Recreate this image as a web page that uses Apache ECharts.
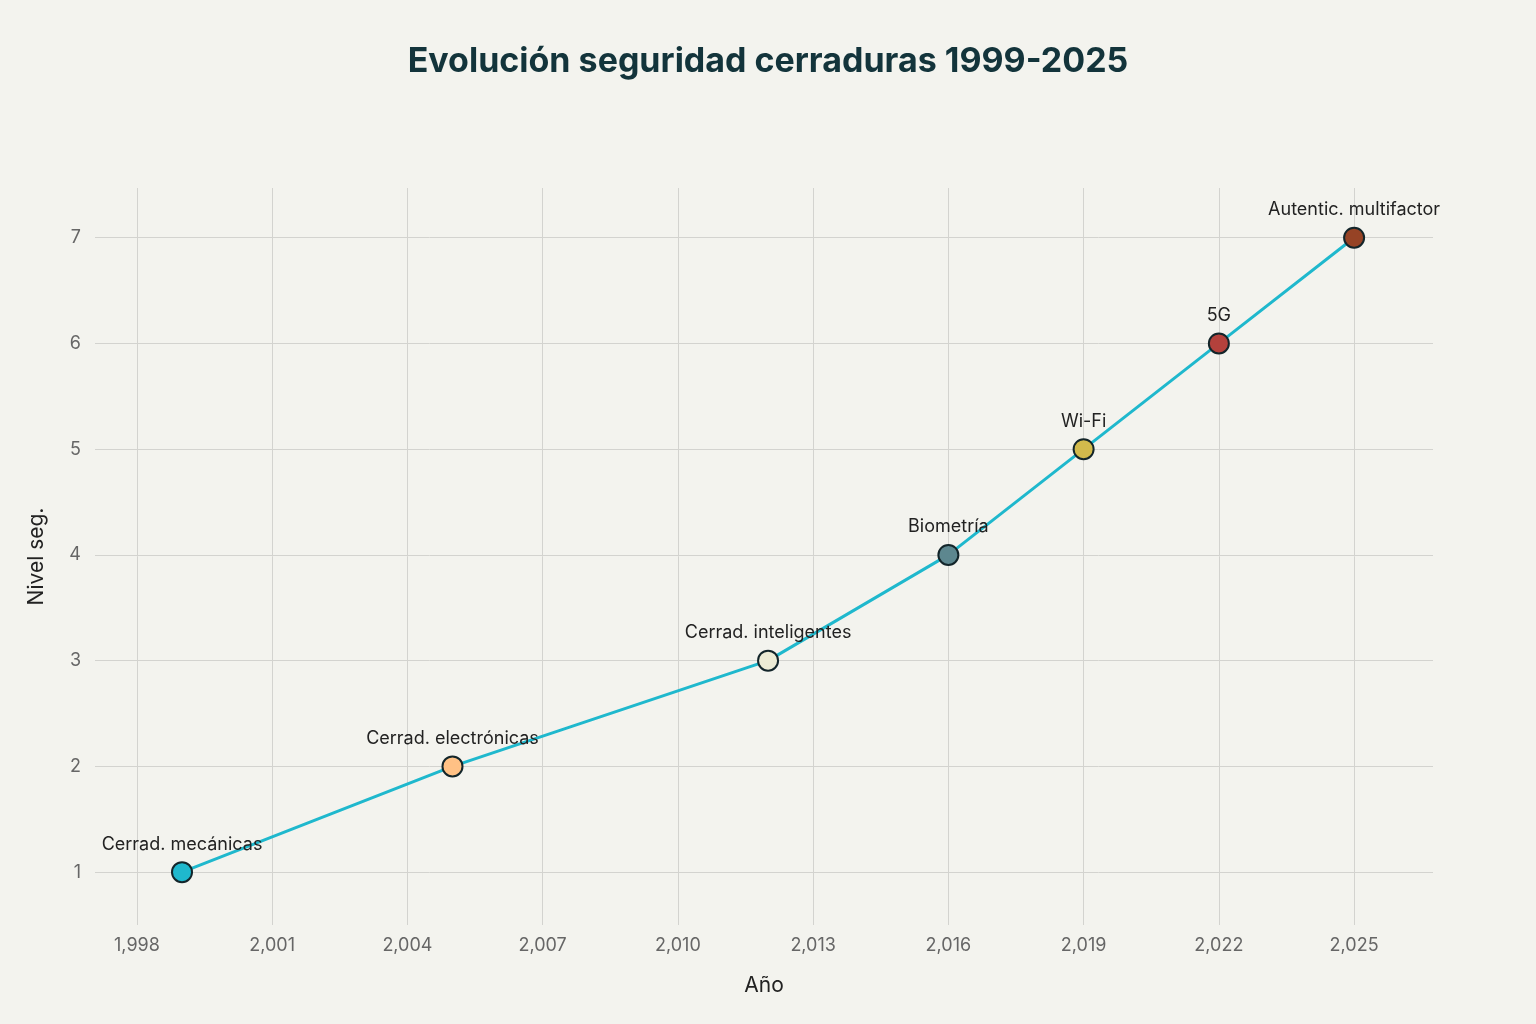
<!DOCTYPE html>
<html>
<head>
<meta charset="utf-8">
<script src="https://cdn.jsdelivr.net/npm/echarts@6/dist/echarts.min.js"></script>
<style>
  html, body { margin: 0; padding: 0; background: #F3F3EE; }
  #chart { width: 1536px; height: 1024px; }
</style>
</head>
<body>
<div id="chart"></div>
<script>
// data
var years = [1999, 2005, 2012, 2016, 2019, 2022, 2025];
var levels = [1, 2, 3, 4, 5, 6, 7];
var milestones = ['Cerrad. mecánicas', 'Cerrad. electrónicas', 'Cerrad. inteligentes',
  'Biometría', 'Wi-Fi', '5G', 'Autentic. multifactor'];
var pointColors = ['#1FB8CD', '#FFC185', '#ECEBD5', '#5D878F', '#D2BA4C', '#B4413C', '#964325'];
var xTicks = [1998, 2001, 2004, 2007, 2010, 2013, 2016, 2019, 2022, 2025];

var chart = echarts.init(document.getElementById('chart'));
var font = 'Inter, "Noto Sans", sans-serif';
var gridLine = {show: true, lineStyle: {color: '#D3D3CF', width: 1}};

chart.setOption({
  backgroundColor: '#F3F3EE',
  textStyle: {fontFamily: font},
  title: {
    text: 'Evolución seguridad cerraduras 1999-2025',
    left: 'center', top: 40,
    textStyle: {fontSize: 34, fontWeight: 'bold', color: '#13343B', fontFamily: font}
  },
  grid: {left: 95, right: 103, top: 188, bottom: 99},
  xAxis: {
    type: 'value', min: 1997.07, max: 2026.75,
    name: 'Año', nameLocation: 'middle', nameGap: 50,
    nameTextStyle: {fontSize: 21, color: '#222'},
    axisLine: {show: false},
    axisTick: {show: false, customValues: xTicks},
    axisLabel: {customValues: xTicks, fontSize: 18, color: '#666', margin: 12},
    splitLine: gridLine
  },
  yAxis: {
    type: 'value', min: 0.5, max: 7.47,
    name: 'Nivel seg.', nameLocation: 'middle', nameGap: 48,
    nameTextStyle: {fontSize: 21, color: '#222'},
    axisLine: {show: false},
    axisTick: {show: false, customValues: levels},
    axisLabel: {customValues: levels, fontSize: 18, color: '#666', margin: 14},
    splitLine: gridLine
  },
  series: [{
    type: 'line',
    data: years.map(function(y, i) {
      return {
        value: [y, levels[i]],
        itemStyle: {color: pointColors[i], borderColor: '#13252A', borderWidth: 2}
      };
    }),
    symbol: 'circle', symbolSize: 20,
    lineStyle: {color: '#1FB8CD', width: 3},
    label: {
      show: true, position: 'top', distance: 8,
      fontSize: 18, color: '#222',
      formatter: function(p) { return milestones[p.dataIndex]; }
    }
  }]
});
</script>
</body>
</html>
